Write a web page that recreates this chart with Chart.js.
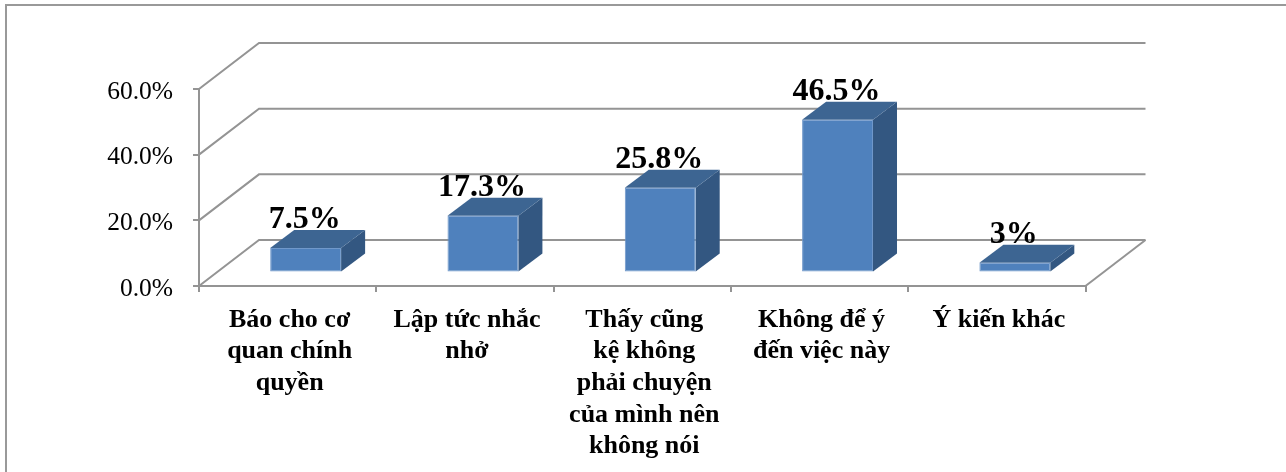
<!DOCTYPE html>
<html>
<head>
<meta charset="utf-8">
<title>Chart</title>
<script src="https://cdn.jsdelivr.net/npm/chart.js@4"></script>
<style>
    html, body { margin: 0; padding: 0; background: #fff; overflow: hidden; }
    #wrap { position: relative; width: 1286px; height: 472px; overflow: hidden; }
    #frame {
        position: absolute; left: 5px; top: 4px; right: -4px; bottom: -4px;
        border: 2px solid #999; box-sizing: border-box;
    }
    canvas { position: absolute; left: 0; top: 0; }
</style>
</head>
<body>
<div id="wrap">
    <div id="frame"></div>
    <canvas id="chart" width="1286" height="472"></canvas>
</div>
<script>
const categories = [
    ['Báo cho cơ', 'quan chính', 'quyền'],
    ['Lập tức nhắc', 'nhở'],
    ['Thấy cũng', 'kệ không', 'phải chuyện', 'của mình nên', 'không nói'],
    ['Không để ý', 'đến việc này'],
    ['Ý kiến khác'],
];
const values = [7.5, 17.3, 25.8, 46.5, 3];
const valueLabels = ['7.5%', '17.3%', '25.8%', '46.5%', '3%'];

const SERIF = "'Liberation Serif', 'Times New Roman', serif";
const GRID = '#949494';

// fake 3D: wall depth of the plot, and where the bars sit inside it
const WALL = { dx: 60, dy: 46 };
const BAR_FRONT = { dx: 18, dy: 13.5 };
const BAR_DEPTH = { dx: 24, dy: 18 };

const poly = (ctx, pts, fill) => {
    ctx.beginPath();
    pts.forEach((p, i) => (i ? ctx.lineTo(p[0], p[1]) : ctx.moveTo(p[0], p[1])));
    ctx.closePath();
    ctx.fillStyle = fill;
    ctx.fill();
};

const wallsPlugin = {
    id: 'walls',
    beforeDatasetsDraw(chart) {
        const { ctx, chartArea: a, scales: { y } } = chart;
        ctx.save();
        ctx.strokeStyle = GRID;
        ctx.lineWidth = 2;
        y.ticks.forEach(t => {
            const py = y.getPixelForValue(t.value);
            ctx.beginPath();
            ctx.moveTo(a.left, py);
            ctx.lineTo(a.left + WALL.dx, py - WALL.dy);
            ctx.lineTo(a.right + WALL.dx, py - WALL.dy);
            ctx.stroke();
        });
        // right edge of the floor
        ctx.beginPath();
        ctx.moveTo(a.right, a.bottom);
        ctx.lineTo(a.right + WALL.dx, a.bottom - WALL.dy);
        ctx.stroke();
        ctx.restore();
    },
};

// native bars stay the front face, just pushed back into the floor
const bars3dPlugin = {
    id: 'bars3d',
    beforeDatasetDraw(chart, args) {
        const { ctx } = chart;
        ctx.save();
        ctx.translate(BAR_FRONT.dx, -BAR_FRONT.dy);
        args.meta.data.forEach(bar => {
            const l = bar.x - bar.width / 2, r = bar.x + bar.width / 2;
            const t = bar.y, b = bar.base;
            const { dx, dy } = BAR_DEPTH;
            poly(ctx, [[r, t], [r + dx, t - dy], [r + dx, b - dy], [r, b]], '#335781');
            poly(ctx, [[l, t], [l + dx, t - dy], [r + dx, t - dy], [r, t]], '#3d6592');
        });
    },
    afterDatasetDraw(chart, args) {
        const { ctx } = chart;
        ctx.restore();
        ctx.save();
        ctx.font = "bold 32px " + SERIF;
        ctx.fillStyle = '#000';
        ctx.textAlign = 'center';
        ctx.textBaseline = 'alphabetic';
        args.meta.data.forEach((bar, i) => {
            ctx.fillText(valueLabels[i], bar.x + BAR_FRONT.dx - 1, bar.y - BAR_FRONT.dy - 19.5);
        });
        ctx.restore();
    },
};

new Chart(document.getElementById('chart'), {
    type: 'bar',
    data: {
        labels: categories,
        datasets: [{
            data: values,
            backgroundColor: '#4f81bd',
            borderColor: '#7098ca',
            borderWidth: 1,
            borderSkipped: false,
            barPercentage: 0.4,
            categoryPercentage: 1,
            clip: false,
        }],
    },
    plugins: [wallsPlugin, bars3dPlugin],
    options: {
        responsive: false,
        animation: false,
        layout: { padding: { top: 89, right: 200.5, left: 0, bottom: 0 } },
        plugins: { legend: { display: false }, tooltip: { enabled: false } },
        scales: {
            x: {
                afterFit(scale) { scale.height = 186; },
                border: { color: GRID, width: 2 },
                grid: { drawOnChartArea: false, color: GRID, lineWidth: 2, tickLength: 6, offset: true },
                ticks: {
                    color: '#000',
                    padding: 12,
                    maxRotation: 0,
                    labelOffset: 2,
                    font: { family: SERIF, size: 26, weight: 'bold', lineHeight: 1.22 },
                },
            },
            y: {
                min: 0,
                max: 60,
                afterFit(scale) { scale.width = 199; },
                border: { color: GRID, width: 2 },
                grid: { drawOnChartArea: false, color: GRID, lineWidth: 2, tickLength: 6 },
                ticks: {
                    stepSize: 20,
                    color: '#000',
                    padding: 20,
                    labelOffset: 3,
                    font: { family: SERIF, size: 25.5 },
                    callback: v => v.toFixed(1) + '%',
                },
            },
        },
    },
});
</script>
</body>
</html>
